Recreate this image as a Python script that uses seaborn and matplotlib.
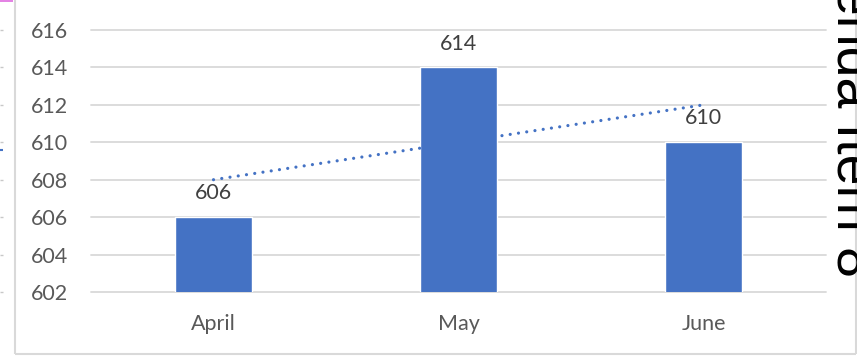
import numpy as np
import pandas as pd
import matplotlib
matplotlib.use("Agg")
import matplotlib.pyplot as plt
from matplotlib.lines import Line2D
import seaborn as sns

# Monthly values
months = ["April", "May", "June"]
values = [606, 614, 610]
y_ticks = [602, 604, 606, 608, 610, 612, 614, 616]

BAR_BLUE = "#4472C4"
GRID_GREY = "#D9D9D9"
TEXT_GREY = "#595959"

sns.set_theme(style="white")
plt.rcParams["font.family"] = ["Lato", "DejaVu Sans"]

W, H = 857, 359
fig = plt.figure(figsize=(W / 100, H / 100), dpi=100)
fig.patch.set_facecolor("white")

ax = fig.add_axes([91 / W, (H - 292) / H, 735 / W, 262 / H])

df = pd.DataFrame({"month": months, "value": values})
sns.barplot(data=df, x="month", y="value", order=months, color=BAR_BLUE,
            saturation=1, width=0.314, ax=ax, zorder=3)

# value labels above the bars
for cont in ax.containers:
    ax.bar_label(cont, labels=[str(v) for v in values], padding=10,
                 fontsize=15.5, color="#404040")

# linear trendline across the months
xpos = np.arange(len(values))
sns.regplot(x=xpos, y=np.array(values, dtype=float), ci=None, scatter=False,
            truncate=True, ax=ax,
            line_kws=dict(color=BAR_BLUE, linewidth=2.3,
                          linestyle=(0, (0.01, 2.6)),
                          dash_capstyle="round", zorder=4))

ax.set_xlim(-0.5, len(months) - 0.5)
ax.set_ylim(y_ticks[0], y_ticks[-1])
ax.set_yticks(y_ticks)
ax.set_yticklabels([str(t) for t in y_ticks])
ax.set_xticks(xpos)
ax.set_xticklabels(months)
ax.set_xlabel("")
ax.set_ylabel("")

ax.yaxis.grid(True, color=GRID_GREY, linewidth=1.3, zorder=0)
ax.set_axisbelow(True)
for gl in ax.get_ygridlines():
    gl.set_clip_on(False)
for s in ax.spines.values():
    s.set_visible(False)
ax.tick_params(axis="y", length=0, pad=16.5, labelsize=15.5, labelcolor=TEXT_GREY)
ax.tick_params(axis="x", length=0, pad=16, labelsize=15.5, labelcolor=TEXT_GREY)

# chart frame
def fig_line(x0, y0, x1, y1, color, lw):
    fig.add_artist(Line2D([x0 / W, x1 / W], [1 - y0 / H, 1 - y1 / H],
                          color=color, linewidth=lw, transform=fig.transFigure,
                          solid_capstyle="butt"))

fig_line(14.5, 0, 14.5, 353.5, GRID_GREY, 1.5)
fig_line(14.5, 353.5, 855.5, 353.5, GRID_GREY, 1.5)
fig_line(855.5, 0, 855.5, 353.5, GRID_GREY, 1.5)

# neighbouring slide edge
fig_line(0, 0.8, 13, 0.8, "#E276E2", 1.3)
for t in y_ticks:
    yy = 1 - (ax.transData.transform((0, t))[1] / H)
    fig_line(0, yy * H, 2.5, yy * H, "#C8C8C8", 1.0)
fig_line(0, 150, 2.5, 150, BAR_BLUE, 1.5)

fig.text(837 / W, 1 + 84 / H, "Agenda Item 8", rotation=-90,
         rotation_mode="anchor", ha="left", va="baseline",
         fontsize=40, color="black", family="Liberation Sans")

fig.savefig("out.png", dpi=100)
